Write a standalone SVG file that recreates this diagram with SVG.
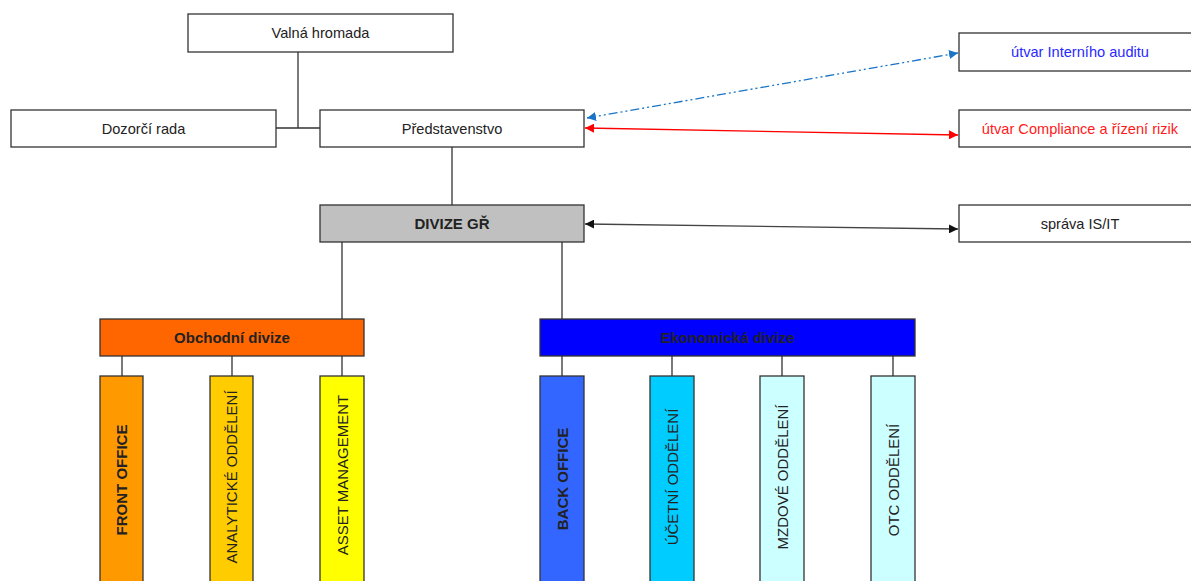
<svg xmlns="http://www.w3.org/2000/svg" width="1191" height="581" viewBox="0 0 1191 581">
<style>
.box{stroke:#333;stroke-width:1.3}
.w{fill:#fff}
.t{font-family:"Liberation Sans",Arial,sans-serif;font-size:14.6px;fill:#222;text-anchor:middle;dominant-baseline:central}
.v{font-size:15px}
.b{font-weight:bold;font-size:15px}
.ln{stroke:#333;stroke-width:1.3;fill:none}
</style>
<defs>
<marker id="ab" viewBox="0 0 10 10" refX="10" refY="5" markerWidth="9" markerHeight="9" markerUnits="userSpaceOnUse" orient="auto-start-reverse"><path d="M0,0L10,5L0,10z" fill="#1a75c7"/></marker>
<marker id="ar" viewBox="0 0 10 10" refX="10" refY="5" markerWidth="9" markerHeight="9" markerUnits="userSpaceOnUse" orient="auto-start-reverse"><path d="M0,0L10,5L0,10z" fill="#ff0000"/></marker>
<marker id="ak" viewBox="0 0 10 10" refX="10" refY="5" markerWidth="9" markerHeight="9" markerUnits="userSpaceOnUse" orient="auto-start-reverse"><path d="M0,0L10,5L0,10z" fill="#111"/></marker>
</defs>
<g id="connectors">
<path class="ln" d="M298,52V128M276,128H320"/>
<path class="ln" d="M452,147V205"/>
<path class="ln" d="M342,242V319M562,242V319"/>
<path class="ln" d="M122,356V376M232,356V376M342,356V376"/>
<path class="ln" d="M562,356V376M672,356V376M782,356V376M893,356V376"/>
<line x1="587" y1="118" x2="958" y2="53" stroke="#1a75c7" stroke-width="1.3" stroke-dasharray="9 3 2 3 2 3" marker-start="url(#ab)" marker-end="url(#ab)"/>
<line x1="585" y1="128" x2="958" y2="135" stroke="#ff0000" stroke-width="1.3" marker-start="url(#ar)" marker-end="url(#ar)"/>
<line x1="585" y1="224" x2="958" y2="229" stroke="#444" stroke-width="1.3" marker-start="url(#ak)" marker-end="url(#ak)"/>
</g>
<g id="valna"><rect class="box w" x="188" y="14" width="265" height="38"/><text class="t" x="320.5" y="33">Valná hromada</text></g>
<g id="dozorci"><rect class="box w" x="11" y="110" width="265" height="37"/><text class="t" x="143.5" y="128.5">Dozorčí rada</text></g>
<g id="predstavenstvo"><rect class="box w" x="320" y="110" width="264" height="37"/><text class="t" x="452" y="128.5">Představenstvo</text></g>
<g id="divize-gr"><rect class="box" fill="#c0c0c0" x="320" y="205" width="264" height="37"/><text class="t b" x="452" y="223.5">DIVIZE GŘ</text></g>
<g id="audit"><rect class="box w" x="959" y="33" width="240" height="38"/><text class="t" x="1080" y="52" style="fill:#2a2aff">útvar Interního auditu</text></g>
<g id="compliance"><rect class="box w" x="959" y="110" width="240" height="37"/><text class="t" x="1080" y="128.5" style="fill:#ff1a1a">útvar Compliance a řízení rizik</text></g>
<g id="isit"><rect class="box w" x="959" y="205" width="240" height="37"/><text class="t" x="1080" y="223.5">správa IS/IT</text></g>
<g id="obchodni"><rect class="box" fill="#ff6600" x="100" y="319" width="264" height="37"/><text class="t b" x="232" y="337.5">Obchodní divize</text></g>
<g id="ekonomicka"><rect class="box" fill="#0000ff" x="540" y="319" width="375" height="37"/><text class="t b" x="727.5" y="337.5">Ekonomická divize</text></g>
<g id="front"><rect class="box" fill="#ff9900" x="100" y="376" width="43" height="220"/><text class="t b" transform="translate(121.5,480) rotate(-90)">FRONT OFFICE</text></g>
<g id="analyticke"><rect class="box" fill="#ffcc00" x="210" y="376" width="43" height="220"/><text class="t v" transform="translate(231.5,477) rotate(-90)">ANALYTICKÉ ODDĚLENÍ</text></g>
<g id="asset"><rect class="box" fill="#ffff00" x="320" y="376" width="44" height="220"/><text class="t v" transform="translate(342,475) rotate(-90)">ASSET MANAGEMENT</text></g>
<g id="back"><rect class="box" fill="#3366ff" x="540" y="376" width="44" height="220"/><text class="t b" transform="translate(562,479) rotate(-90)">BACK OFFICE</text></g>
<g id="ucetni"><rect class="box" fill="#00ccff" x="650" y="376" width="44" height="220"/><text class="t v" transform="translate(672,477) rotate(-90)">ÚČETNÍ ODDĚLENÍ</text></g>
<g id="mzdove"><rect class="box" fill="#ccffff" x="760" y="376" width="44" height="220"/><text class="t v" transform="translate(782,477) rotate(-90)">MZDOVÉ ODDĚLENÍ</text></g>
<g id="otc"><rect class="box" fill="#ccffff" x="871" y="376" width="44" height="220"/><text class="t v" transform="translate(893,480) rotate(-90)">OTC ODDĚLENÍ</text></g>
</svg>
